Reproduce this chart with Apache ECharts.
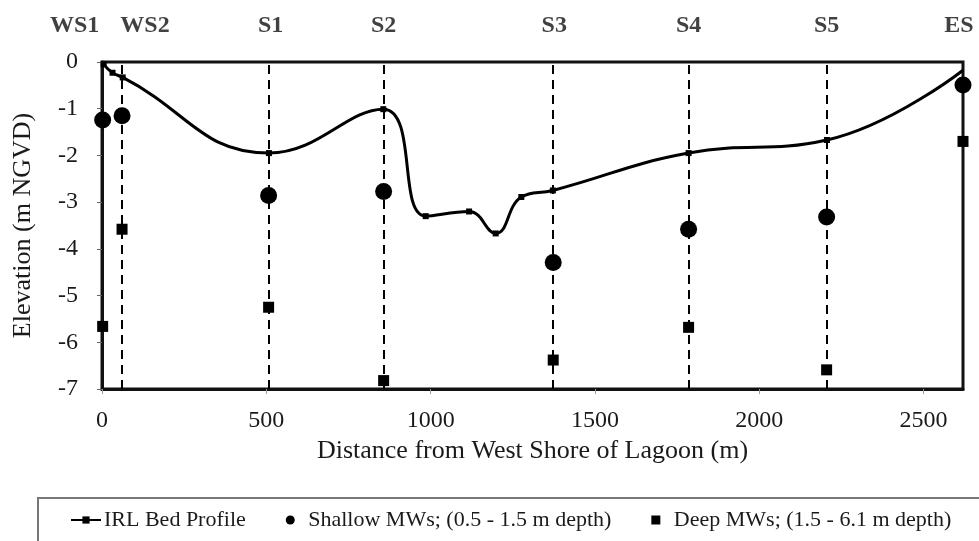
<!DOCTYPE html>
<html>
<head>
<meta charset="utf-8">
<script src="https://cdn.jsdelivr.net/npm/echarts@6/dist/echarts.min.js"></script>
<style>html,body{margin:0;padding:0;background:#fff;}#c{width:979px;height:541px;}</style>
</head>
<body>
<div id="c"></div>
<script>
// ---- data ----
const stationNames = ['WS1', 'WS2', 'S1', 'S2', 'S3', 'S4', 'S5', 'ES'];
const stationDist = [2, 61, 507, 857, 1373, 1785, 2205, 2620];
const shallowElev = [-1.24, -1.15, -2.86, -2.77, -4.29, -3.58, -3.32, -0.49];
const deepElev = [-5.66, -3.58, -5.25, -6.82, -6.38, -5.68, -6.59, -1.70];
const bedDist = [5, 32, 63, 508, 856, 985, 1117, 1198, 1276, 1372, 1785, 2206, 2621];
const bedElev = [-0.05, -0.23, -0.33, -1.95, -1.01, -3.30, -3.20, -3.67, -2.89, -2.75, -1.95, -1.67, -0.17];
const xTicks = [0, 500, 1000, 1500, 2000, 2500];
const yTicks = [0, -1, -2, -3, -4, -5, -6, -7];
const seriesNames = ['IRL Bed Profile', 'Shallow MWs; (0.5 - 1.5 m depth)', 'Deep MWs; (1.5 - 6.1 m depth)'];

// ---- styling (label horizontal shifts, px) ----
const labelShift = [-28, 23, 2, 0, 1, 0, 0, -4];
const dashedStations = [false, true, true, true, true, true, true, false];

const FONT = '"Liberation Serif", "Times New Roman", serif';
const chart = echarts.init(document.getElementById('c'), null, {renderer: 'canvas'});

const bedData = bedDist.map((d, i) => [d, bedElev[i]]);
const shallowData = stationDist.map((d, i) => [d, shallowElev[i]]);
const deepData = stationDist.map((d, i) => [d, deepElev[i]]);
const stationLabelData = stationDist.map((d, i) => ({
  value: [d, 0],
  name: stationNames[i],
  label: {offset: [labelShift[i], 0]}
}));
const markLines = stationDist.map((d, i) => dashedStations[i] ? {xAxis: d} : null).filter(Boolean);

const option = {
  backgroundColor: '#fff',
  animation: false,
  grid: {
    left: 102, right: 16, top: 62, bottom: 152,
    show: true, borderColor: '#111', borderWidth: 3, backgroundColor: 'transparent'
  },
  xAxis: {
    type: 'value', min: 0, max: 2620, interval: 500,
    name: 'Distance from West Shore of Lagoon (m)',
    nameLocation: 'middle', nameGap: 46,
    nameTextStyle: {fontFamily: FONT, fontSize: 26, color: '#1a1a1a'},
    axisLine: {show: true, onZero: false, lineStyle: {color: '#111', width: 3}},
    axisTick: {show: true, length: 5, lineStyle: {color: '#999', width: 1}},
    axisLabel: {
      fontFamily: FONT, fontSize: 24, color: '#1a1a1a', margin: 20,
      showMaxLabel: false,
      formatter: v => xTicks.includes(v) ? String(v) : ''
    },
    splitLine: {show: false}
  },
  yAxis: {
    type: 'value', min: -7, max: 0, interval: 1,
    name: 'Elevation (m NGVD)',
    nameLocation: 'middle', nameGap: 66, nameRotate: 90,
    nameTextStyle: {fontFamily: FONT, fontSize: 26, color: '#1a1a1a'},
    axisLine: {show: true, lineStyle: {color: '#111', width: 3}},
    axisTick: {show: true, length: 5, lineStyle: {color: '#666', width: 1}},
    axisLabel: {
      fontFamily: FONT, fontSize: 24, color: '#1a1a1a', margin: 24,
      formatter: v => yTicks.includes(v) ? String(v) : ''
    },
    splitLine: {show: false}
  },
  legend: {
    data: [
      {name: seriesNames[0]},
      {name: seriesNames[1], icon: 'circle'},
      {name: seriesNames[2], icon: 'path://M0,0L10,0L10,10L0,10Z'}
    ],
    left: 70, top: 509, padding: 0,
    itemWidth: 30, itemHeight: 9, itemGap: 40,
    textStyle: {fontFamily: FONT, fontSize: 22, color: '#1a1a1a', padding: [0, 0, 0, -2]}
  },
  graphic: [{
    type: 'rect', left: 37, top: 497, z: -1,
    shape: {width: 1000, height: 80},
    style: {fill: '#fff', stroke: '#777', lineWidth: 2}
  }],
  series: [
    {
      name: seriesNames[0], type: 'line', data: bedData,
      smooth: 0.45, symbol: 'rect', symbolSize: 6,
      lineStyle: {color: '#000', width: 3},
      itemStyle: {color: '#000'},
      z: 3
    },
    {
      name: seriesNames[1], type: 'scatter', data: shallowData,
      symbol: 'circle', symbolSize: 17,
      itemStyle: {color: '#000', opacity: 1},
      clip: false, z: 4,
      markLine: {
        silent: true, symbol: ['none', 'none'],
        lineStyle: {color: '#000', width: 2, type: [9, 6]},
        label: {show: false},
        data: markLines
      }
    },
    {
      name: seriesNames[2], type: 'scatter', data: deepData,
      symbol: 'rect', symbolSize: 11,
      itemStyle: {color: '#000', opacity: 1},
      clip: false, z: 4
    },
    {
      name: 'stations', type: 'scatter', data: stationLabelData,
      symbolSize: 0, clip: false, silent: true,
      label: {
        show: true, position: 'top', distance: 24,
        formatter: p => p.name,
        fontFamily: FONT, fontSize: 24, fontWeight: 'bold', color: '#111'
      }
    }
  ]
};
chart.setOption(option);
</script>
</body>
</html>
